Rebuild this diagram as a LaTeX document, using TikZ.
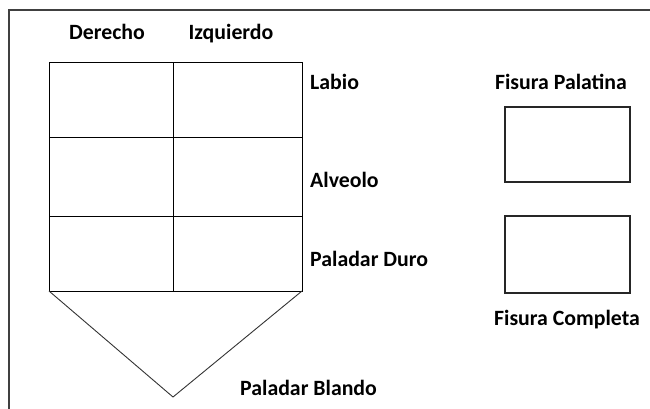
\documentclass[tikz,border=0pt]{standalone}
\usepackage{fontspec}
\setmainfont{Carlito}
\begin{document}
\begin{tikzpicture}[x=1pt,y=-1pt,
  lbl/.style={font=\bfseries\fontsize{21.8}{26}\selectfont, inner sep=0pt},
  cell/.style={line width=1pt},
  fbox/.style={line width=1.3pt, black!85}]
\useasboundingbox (0,0) rectangle (650,408);
\clip (0,0) rectangle (650,408);

% frame
\draw[line width=1.5pt, black!75] (9,10) rectangle (670,430);

% grid
\draw[cell] (49,62) rectangle (302,291);
\draw[cell] (173,62) -- (173,291);
\draw[cell] (49,137) -- (302,137);
\draw[cell] (49,216) -- (302,216);
\draw[line width=0.9pt, black!80] (49,291) -- (173,397) -- (302,291);

\node[lbl, anchor=base] (der) at (107,39) {Derecho};
\node[lbl, anchor=base] (izq) at (231,39) {Izquierdo};

\node[lbl, anchor=base west] (lab) at (310,89) {Labio};
\node[lbl, anchor=base west] (alv) at (310,187) {Alveolo};
\node[lbl, anchor=base west] (pdu) at (310,266) {Paladar Duro};
\node[lbl, anchor=base west] (pbl) at (240,395) {Paladar Blando};

% right boxes
\node[lbl, anchor=base] (fpal) at (561,89) {Fisura Palatina};
\draw[fbox] (505,107) rectangle (630,182);
\draw[fbox] (505,216) rectangle (630,293);
\node[lbl, anchor=base] (fcom) at (567,325) {Fisura Completa};

\end{tikzpicture}
\end{document}
